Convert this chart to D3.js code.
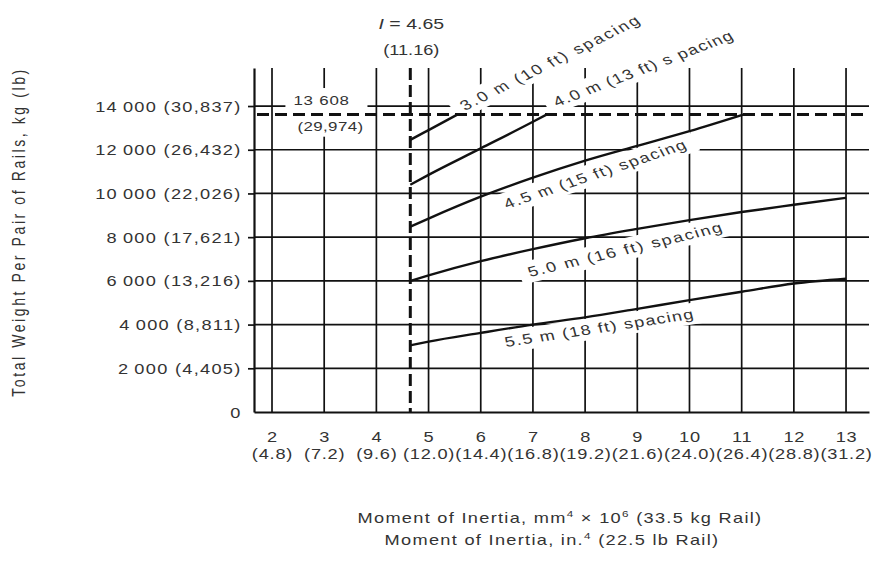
<!DOCTYPE html>
<html>
<head>
<meta charset="utf-8">
<script src="https://cdn.jsdelivr.net/npm/d3@7/dist/d3.min.js"></script>
<style>
  body { margin: 0; background: #fff; }
  svg { display: block; }
  text { font-family: "Liberation Sans", Arial, Helvetica, sans-serif; fill: #333; }
</style>
</head>
<body>
<svg id="chart" width="878" height="561"></svg>
<script>
// ---- chart values ----
const xTicks = [2, 3, 4, 5, 6, 7, 8, 9, 10, 11, 12, 13];
const xTickImperial = ["(4.8)", "(7.2)", "(9.6)", "(12.0)", "(14.4)", "(16.8)", "(19.2)", "(21.6)", "(24.0)", "(26.4)", "(28.8)", "(31.2)"];
const yTicks = [0, 2000, 4000, 6000, 8000, 10000, 12000, 14000];
const yTickMetric = ["0", "2\u2009000", "4\u2009000", "6\u2009000", "8\u2009000", "10\u2009000", "12\u2009000", "14\u2009000"];
const yTickImperial = ["", "(4,405)", "(8,811)", "(13,216)", "(17,621)", "(22,026)", "(26,432)", "(30,837)"];

const inertiaLimit = 4.65;
const inertiaLimitImperial = "(11.16)";
const weightLimit = 13608;
const weightLimitLabel = "13 608";
const weightLimitImperial = "(29,974)";

const seriesNames = [
  "3.0 m (10 ft) spacing",
  "4.0 m (13 ft) s pacing",
  "4.5 m (15 ft) spacing",
  "5.0 m (16 ft) spacing",
  "5.5 m (18 ft) spacing"
];
const inertia30 = [4.65, 5.0, 5.55];
const weight30 = [12450, 12900, 13608];
const inertia40 = [4.65, 5, 6, 7, 7.26];
const weight40 = [10400, 10850, 12060, 13280, 13608];
const inertia45 = [4.65, 5, 6, 7, 8, 9, 10, 11.03];
const weight45 = [8480, 8850, 9850, 10720, 11500, 12180, 12850, 13608];
const inertia50 = [4.65, 5, 6, 7, 8, 9, 10, 11, 12, 13];
const weight50 = [6000, 6250, 6900, 7450, 7950, 8380, 8780, 9150, 9480, 9800];
const inertia55 = [4.65, 5, 6, 7, 8, 9, 10, 11, 12, 13];
const weight55 = [3050, 3220, 3620, 4000, 4330, 4720, 5120, 5500, 5880, 6100];

const seriesInertia = [inertia30, inertia40, inertia45, inertia50, inertia55];
const seriesWeight = [weight30, weight40, weight45, weight50, weight55];

// ---- layout ----
const SX = 1.3;           // horizontal widening applied to all lettering
const INK = "#111";
const svg = d3.select("#chart");

const x = d3.scaleLinear().domain([1.655, 13.44]).range([254, 869]);
const y = d3.scaleLinear().domain([0, 15740]).range([412, 68]);
const [x0, x1] = x.range();
const [yBottom, yTop] = y.range();

const gGrid = svg.append("g");
const gAxes = svg.append("g");
const gMask = svg.append("g");
const gRef = svg.append("g");
const gCurves = svg.append("g");
const gText = svg.append("g");

// grid
gGrid.selectAll("line.v").data(xTicks).join("line")
  .attr("x1", d => x(d)).attr("x2", d => x(d))
  .attr("y1", yTop).attr("y2", yBottom)
  .attr("stroke", INK).attr("stroke-width", 1.7);
gGrid.selectAll("line.h").data(yTicks.filter(d => d > 0)).join("line")
  .attr("x1", x0).attr("x2", x1)
  .attr("y1", d => y(d)).attr("y2", d => y(d))
  .attr("stroke", INK).attr("stroke-width", 1.7);

// y axis
const yAxis = gAxes.append("g")
  .attr("transform", `translate(${x0},0)`)
  .call(d3.axisLeft(y).tickValues(yTicks).tickSize(6).tickSizeOuter(0)
    .tickFormat((d, i) => yTickImperial[i] ? `${yTickMetric[i]} ${yTickImperial[i]}` : yTickMetric[i]));
yAxis.select(".domain").attr("stroke", INK).attr("stroke-width", 2.2);
yAxis.selectAll(".tick line").attr("stroke", INK).attr("stroke-width", 1.7)
  .filter(d => d === 0).remove();
yAxis.selectAll(".tick text")
  .attr("x", -9.5).attr("dy", "0.36em")
  .attr("transform", `scale(${SX},1)`)
  .style("font-size", "14px").style("letter-spacing", "1px").attr("fill", "#333");

// x axis
const xAxis = gAxes.append("g")
  .attr("transform", `translate(0,${yBottom})`)
  .call(d3.axisBottom(x).tickValues(xTicks).tickSize(0).tickSizeOuter(0));
xAxis.select(".domain").attr("stroke", INK).attr("stroke-width", 2.2);
xAxis.selectAll(".tick text").each(function (d, i) {
  const t = d3.select(this).text(null).attr("y", null).attr("dy", null)
    .attr("transform", `scale(${SX},1)`)
    .style("font-size", "14px").style("letter-spacing", "0.6px").attr("fill", "#333");
  t.append("tspan").attr("x", 0).attr("y", 30).text(d);
  t.append("tspan").attr("x", 0).attr("y", 47).text(xTickImperial[i]);
});

// stretched text helper
function label(parent, tx, ty, angle, size, spacing, anchor) {
  return parent.append("text")
    .attr("transform", `translate(${tx},${ty}) scale(${SX},1) rotate(${angle})`)
    .attr("text-anchor", anchor)
    .style("font-size", size + "px")
    .style("letter-spacing", spacing + "px");
}
function maskBehind(textSel, padX, padY) {
  const b = textSel.node().getBBox();
  gMask.append("rect")
    .attr("transform", textSel.attr("transform"))
    .attr("x", b.x - padX).attr("y", b.y - padY)
    .attr("width", b.width + 2 * padX).attr("height", b.height + 2 * padY)
    .attr("fill", "#fff");
}

// limit annotations
const limTop = label(gText, x(inertiaLimit) + 1, 29, 0, 15, 0, "middle");
limTop.append("tspan").style("font-style", "italic").text("I");
limTop.append("tspan").text(" = 4.65");
label(gText, x(inertiaLimit) + 1, 55, 0, 14, 0, "middle").text(inertiaLimitImperial);

const wl1 = label(gText, x(2.95), y(weightLimit) - 9.5, 0, 13, 0.6, "middle").text(weightLimitLabel);
const wl2 = label(gText, x(3.12), y(weightLimit) + 16.5, 0, 13, 0.3, "middle").text(weightLimitImperial);
{
  const a = wl1.node().getBoundingClientRect(), b = wl2.node().getBoundingClientRect();
  const left = Math.min(a.left, b.left) - 8, right = Math.max(a.right, b.right) + 4;
  gMask.append("rect").attr("x", left).attr("y", a.top - 5)
    .attr("width", right - left).attr("height", b.bottom - a.top + 8).attr("fill", "#fff");
}

// curve labels: baseline start, angle, letter spacing
const curveLabelPos = [
  [465, 111, -33, 1.7],
  [557, 107, -26.5, 1],
  [507, 209, -23.6, 1.2],
  [530, 277, -17, 1.4],
  [506, 347, -11.1, 1]
];
seriesNames.forEach((name, i) => {
  const [tx, ty, ang, ls] = curveLabelPos[i];
  const t = label(gText, tx, ty, ang, 14, ls, "start").text(name);
  maskBehind(t, 7, 3);
});

// reference lines
gRef.append("line")
  .attr("x1", x(inertiaLimit)).attr("x2", x(inertiaLimit))
  .attr("y1", yTop).attr("y2", yBottom)
  .attr("stroke", INK).attr("stroke-width", 3).attr("stroke-dasharray", "12,5");
gRef.append("line")
  .attr("x1", x0 + 3).attr("x2", x1)
  .attr("y1", y(weightLimit)).attr("y2", y(weightLimit))
  .attr("stroke", INK).attr("stroke-width", 3).attr("stroke-dasharray", "12,6");

// curves
const line = d3.line().x(d => x(d[0])).y(d => y(d[1])).curve(d3.curveMonotoneX);
seriesInertia.forEach((xs, i) => {
  const pts = xs.map((v, j) => [v, seriesWeight[i][j]]);
  gCurves.append("path").attr("d", line(pts))
    .attr("fill", "none").attr("stroke", INK).attr("stroke-width", 2.4);
});

// axis titles
const yt = label(gText, 25, 232, -90, 14, 2.6, "middle");
yt.text("Total Weight Per Pair of Rails, kg (lb)");

const xt1 = label(gText, 560, 523, 0, 14, 1, "middle");
xt1.append("tspan").text("Moment of Inertia, mm");
xt1.append("tspan").attr("dy", -6).style("font-size", "9px").text("4");
xt1.append("tspan").attr("dy", 6).text(" \u00d7 10");
xt1.append("tspan").attr("dy", -6).style("font-size", "9px").text("6");
xt1.append("tspan").attr("dy", 6).text(" (33.5 kg Rail)");

const xt2 = label(gText, 552, 545, 0, 14, 1, "middle");
xt2.append("tspan").text("Moment of Inertia, in.");
xt2.append("tspan").attr("dy", -6).style("font-size", "9px").text("4");
xt2.append("tspan").attr("dy", 6).text(" (22.5 lb Rail)");
</script>
</body>
</html>
